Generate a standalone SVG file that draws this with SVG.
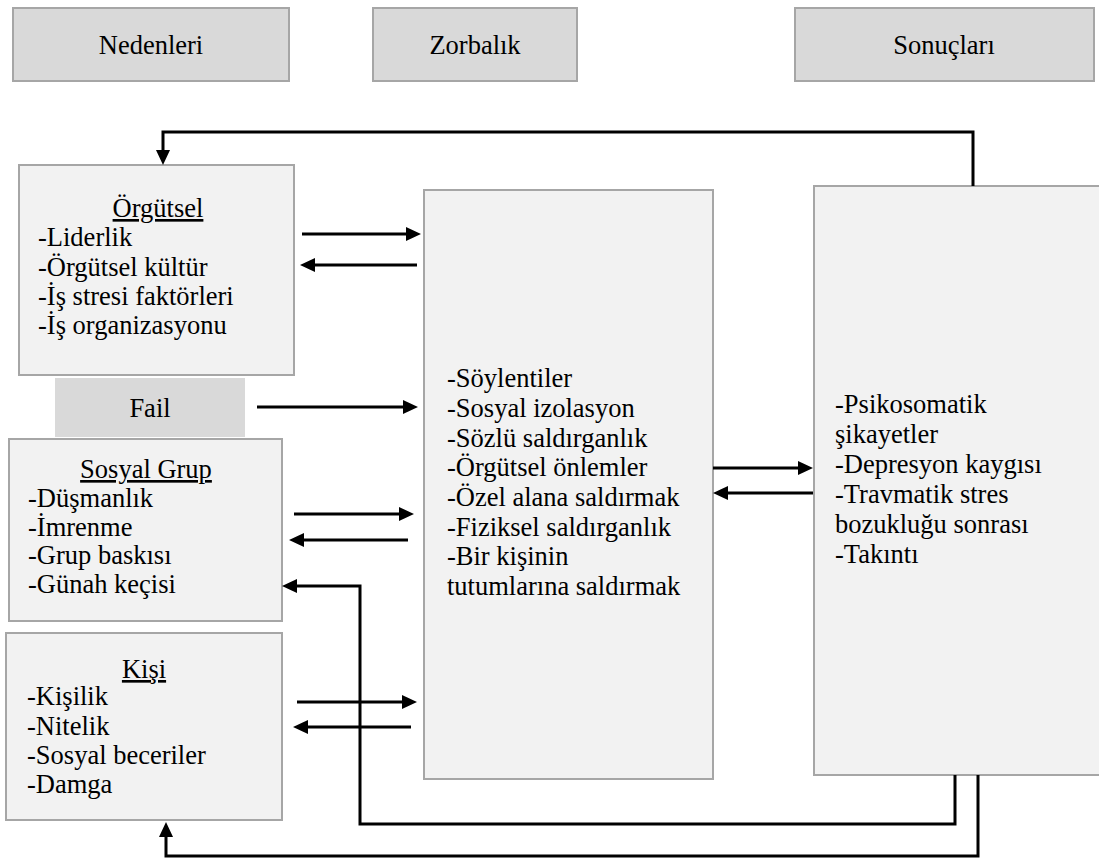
<svg xmlns="http://www.w3.org/2000/svg" width="1099" height="859" viewBox="0 0 1099 859">
  <style>
    svg text, text { font-family: "Liberation Serif", "Times New Roman", Times, serif !important; }
  </style>
  <defs>
    <marker id="arrow" markerUnits="userSpaceOnUse" viewBox="0 0 15 14" markerWidth="15" markerHeight="14" refX="7" refY="7" orient="auto">
      <path d="M0,0 L15,7 L0,14 z" fill="#000"/>
    </marker>
  </defs>
  <rect width="1099" height="859" fill="#fff"/>

  <!-- column headers -->
  <g id="hdr-nedenleri">
    <rect x="13" y="8" width="276" height="73" fill="#d9d9d9" stroke="#a6a6a6" stroke-width="2"/>
    <text x="151" y="54" font-family="Liberation Serif, serif" font-size="26.5" text-anchor="middle">Nedenleri</text>
  </g>
  <g id="hdr-zorbalik">
    <rect x="373" y="8" width="204" height="73" fill="#d9d9d9" stroke="#a6a6a6" stroke-width="2"/>
    <text x="475" y="54" font-family="Liberation Serif, serif" font-size="26.5" text-anchor="middle">Zorbalık</text>
  </g>
  <g id="hdr-sonuclari">
    <rect x="795" y="8" width="299" height="73" fill="#d9d9d9" stroke="#a6a6a6" stroke-width="2"/>
    <text x="944" y="54" font-family="Liberation Serif, serif" font-size="26.5" text-anchor="middle">Sonuçları</text>
  </g>

  <!-- causes -->
  <g id="orgutsel">
    <rect x="19" y="165" width="275" height="210" fill="#f2f2f2" stroke="#a6a6a6" stroke-width="2"/>
    <text x="158" y="217" font-family="Liberation Serif, serif" font-size="26.5" text-anchor="middle" text-decoration="underline">Örgütsel</text>
    <text x="38" y="246" font-family="Liberation Serif, serif" font-size="26.5">-Liderlik</text>
    <text x="38" y="276" font-family="Liberation Serif, serif" font-size="26.5">-Örgütsel kültür</text>
    <text x="38" y="305" font-family="Liberation Serif, serif" font-size="26.5">-İş stresi faktörleri</text>
    <text x="38" y="334" font-family="Liberation Serif, serif" font-size="26.5">-İş organizasyonu</text>
  </g>
  <g id="fail">
    <rect x="55" y="378" width="190" height="59" fill="#d9d9d9"/>
    <text x="150" y="417" font-family="Liberation Serif, serif" font-size="26.5" text-anchor="middle">Fail</text>
  </g>
  <g id="sosyal-grup">
    <rect x="9" y="439" width="273" height="182" fill="#f2f2f2" stroke="#a6a6a6" stroke-width="2"/>
    <text x="146" y="478" font-family="Liberation Serif, serif" font-size="26.5" text-anchor="middle" text-decoration="underline">Sosyal Grup</text>
    <text x="28" y="507" font-family="Liberation Serif, serif" font-size="26.5">-Düşmanlık</text>
    <text x="28" y="536" font-family="Liberation Serif, serif" font-size="26.5">-İmrenme</text>
    <text x="28" y="564" font-family="Liberation Serif, serif" font-size="26.5">-Grup baskısı</text>
    <text x="28" y="593" font-family="Liberation Serif, serif" font-size="26.5">-Günah keçisi</text>
  </g>
  <g id="kisi">
    <rect x="6" y="633" width="276" height="187" fill="#f2f2f2" stroke="#a6a6a6" stroke-width="2"/>
    <text x="144" y="678" font-family="Liberation Serif, serif" font-size="26.5" text-anchor="middle" text-decoration="underline">Kişi</text>
    <text x="27" y="705" font-family="Liberation Serif, serif" font-size="26.5">-Kişilik</text>
    <text x="27" y="735" font-family="Liberation Serif, serif" font-size="26.5">-Nitelik</text>
    <text x="27" y="764" font-family="Liberation Serif, serif" font-size="26.5">-Sosyal beceriler</text>
    <text x="27" y="793" font-family="Liberation Serif, serif" font-size="26.5">-Damga</text>
  </g>

  <!-- bullying behaviours -->
  <g id="zorbalik">
    <rect x="424" y="190" width="289" height="589" fill="#f2f2f2" stroke="#a6a6a6" stroke-width="2"/>
    <text x="447" y="387" font-family="Liberation Serif, serif" font-size="26.5">-Söylentiler</text>
    <text x="447" y="417" font-family="Liberation Serif, serif" font-size="26.5">-Sosyal izolasyon</text>
    <text x="447" y="447" font-family="Liberation Serif, serif" font-size="26.5">-Sözlü saldırganlık</text>
    <text x="447" y="476" font-family="Liberation Serif, serif" font-size="26.5">-Örgütsel önlemler</text>
    <text x="447" y="506" font-family="Liberation Serif, serif" font-size="26.5">-Özel alana saldırmak</text>
    <text x="447" y="536" font-family="Liberation Serif, serif" font-size="26.5">-Fiziksel saldırganlık</text>
    <text x="447" y="565" font-family="Liberation Serif, serif" font-size="26.5">-Bir kişinin</text>
    <text x="447" y="595" font-family="Liberation Serif, serif" font-size="26.5">tutumlarına saldırmak</text>
  </g>

  <!-- consequences -->
  <g id="sonuclar">
    <rect x="814" y="186" width="290" height="589" fill="#f2f2f2" stroke="#a6a6a6" stroke-width="2"/>
    <text x="835" y="413" font-family="Liberation Serif, serif" font-size="26.5">-Psikosomatik</text>
    <text x="835" y="443" font-family="Liberation Serif, serif" font-size="26.5">şikayetler</text>
    <text x="835" y="473" font-family="Liberation Serif, serif" font-size="26.5">-Depresyon kaygısı</text>
    <text x="835" y="503" font-family="Liberation Serif, serif" font-size="26.5">-Travmatik stres</text>
    <text x="835" y="533" font-family="Liberation Serif, serif" font-size="26.5">bozukluğu sonrası</text>
    <text x="835" y="563" font-family="Liberation Serif, serif" font-size="26.5">-Takıntı</text>
  </g>

  <!-- connectors -->
  <g id="connectors" fill="none" stroke="#000" stroke-width="3">
    <path d="M973,186 V132 H163 V157" marker-end="url(#arrow)"/>
    <path d="M302,234 H413" marker-end="url(#arrow)"/>
    <path d="M417,265 H308" marker-end="url(#arrow)"/>
    <path d="M257,407 H410" marker-end="url(#arrow)"/>
    <path d="M294,514 H406" marker-end="url(#arrow)"/>
    <path d="M408,540 H297" marker-end="url(#arrow)"/>
    <path d="M297,702 H409" marker-end="url(#arrow)"/>
    <path d="M411,727 H301" marker-end="url(#arrow)"/>
    <path d="M713,468 H805" marker-end="url(#arrow)"/>
    <path d="M813,493 H721" marker-end="url(#arrow)"/>
    <path d="M955,775 V824 H360 V586 H290" marker-end="url(#arrow)"/>
    <path d="M978,775 V856 H166 V830" marker-end="url(#arrow)"/>
  </g>
</svg>
